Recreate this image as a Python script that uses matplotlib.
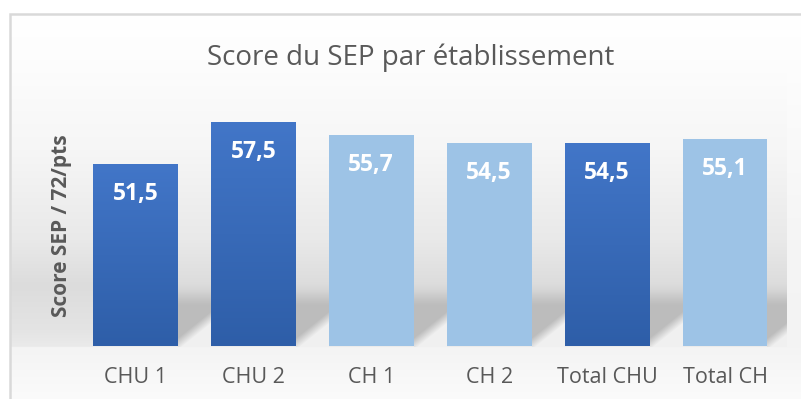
import numpy as np
import matplotlib.pyplot as plt
from matplotlib.colors import LinearSegmentedColormap

# scores per establishment
categories = ["CHU 1", "CHU 2", "CH 1", "CH 2", "Total CHU", "Total CH"]
scores = [51.5, 57.5, 55.7, 54.5, 54.5, 55.1]
kinds = ["CHU", "CHU", "CH", "CH", "CHU", "CH"]

title = "Score du SEP par établissement"
ylabel = "Score SEP / 72/pts"

plt.rcParams['font.family'] = ['Open Sans', 'DejaVu Sans']
GREY_TXT = '#595959'

W, H = 801, 399
fig = plt.figure(figsize=(W / 100, H / 100), dpi=100)

# background layer in pixel coordinates
bg = fig.add_axes([0, 0, 1, 1])
bg.set_xlim(0, W)
bg.set_ylim(H, 0)
bg.axis('off')

# main plot area
base_px, top_px = 346, 60
left_px, right_px = 76.5, 784
ymin = 25.5
ymax = ymin + (base_px - top_px) / 7.0
ax = fig.add_axes([left_px / W, (H - base_px) / H,
                   (right_px - left_px) / W, (base_px - top_px) / H])
ax.patch.set_alpha(0)
ax.set_zorder(2)

x = np.arange(len(categories))
width = 0.72
bar_colors = {"CHU": '#3d6fc0', "CH": '#9dc3e6'}
bars = ax.bar(x, scores, width=width, color=[bar_colors[k] for k in kinds], zorder=2)

# vertical gradient on the dark bars
dark_cmap = LinearSegmentedColormap.from_list('dark', ['#2e5ea8', '#4276c8'])
grad = np.linspace(0, 1, 256)[:, None]
for b, k in zip(bars, kinds):
    if k != "CHU":
        continue
    x0, w, h = b.get_x(), b.get_width(), b.get_height()
    im = ax.imshow(grad, extent=[x0, x0 + w, ymin, h], origin='lower',
                   aspect='auto', cmap=dark_cmap, zorder=2.1)
    im.set_clip_path(b)

ax.set_xlim(-0.5, len(categories) - 0.5)
ax.set_ylim(ymin, ymax)
for s in ax.spines.values():
    s.set_visible(False)
ax.set_yticks([])
ax.set_xticks(x, categories)
ax.tick_params(axis='x', length=0, pad=26.5, labelsize=15.5, labelcolor=GREY_TXT)
for lbl in ax.get_xticklabels():
    lbl.set_va('baseline')

for xi, v in zip(x, scores):
    ax.text(xi, v - 30 / 7.0, f"{v:.1f}".replace('.', ','), ha='center', va='center',
            color='white', fontsize=16.5, fontweight='bold', zorder=3)

# grey gradient backdrop with the bars' cast shadows
yy = np.arange(H) + 0.5
xx = np.arange(W) + 0.5
inner = np.interp(yy, [13, 60, 150, 240, 285, 330, 346, 348, 352, 399],
                  [255, 253, 246, 233, 220, 228, 234, 238, 244, 251])
outer = np.interp(yy, [13, 60, 150, 240, 346, 348, 399],
                  [255, 253, 249, 245, 243, 244, 251])
img = np.where((xx[None, :] < 787) & (yy[:, None] < 347), inner[:, None], outer[:, None])

edges = []
for b in bars:
    (lx, _), (rx, _) = ax.transData.transform([(b.get_x(), ymin), (b.get_x() + b.get_width(), ymin)])
    edges.append((lx, rx))
for i, (lx, rx) in enumerate(edges):
    nxt = edges[i + 1][0] if i + 1 < len(edges) else 787
    cols = (xx >= rx) & (xx < nxt)
    dx = xx[cols] - rx
    Y = yy[:, None]
    v = np.clip((Y - 282) / 26.0, 0, 1)
    v = v * v * (3 - 2 * v)
    yline = base_px - dx[None, :] * 0.8
    t = np.clip((Y - (yline - 8)) / 12.0, 0, 1)
    shade = img[:, cols] * (1 - v) + 188 * v
    shade = shade * (1 - t) + 240 * t
    mask = (Y < 347)
    img[:, cols] = np.where(mask, shade, img[:, cols])

# chart area outside the frame stays white
img[:13, :] = 255
img[:, :10] = 255
bg.imshow(np.dstack([img / 255.0] * 3), extent=[0, W, H, 0], aspect='auto',
          interpolation='bilinear', zorder=0)
bg.set_xlim(0, W)
bg.set_ylim(H, 0)
bg.plot([9.5, 9.5, 812], [412, 13.5, 13.5], color='#d9d9d9', lw=1.8, zorder=1,
        solid_joinstyle='miter')

fig.text(411 / W, 1 - 65 / H, title, ha='center', va='baseline',
         fontsize=20, color=GREY_TXT)
fig.text(62 / W, 1 - 226 / H, ylabel, ha='center', va='center', rotation=90,
         fontsize=15, fontweight='bold', color=GREY_TXT)

fig.savefig('out.png', dpi=100)
